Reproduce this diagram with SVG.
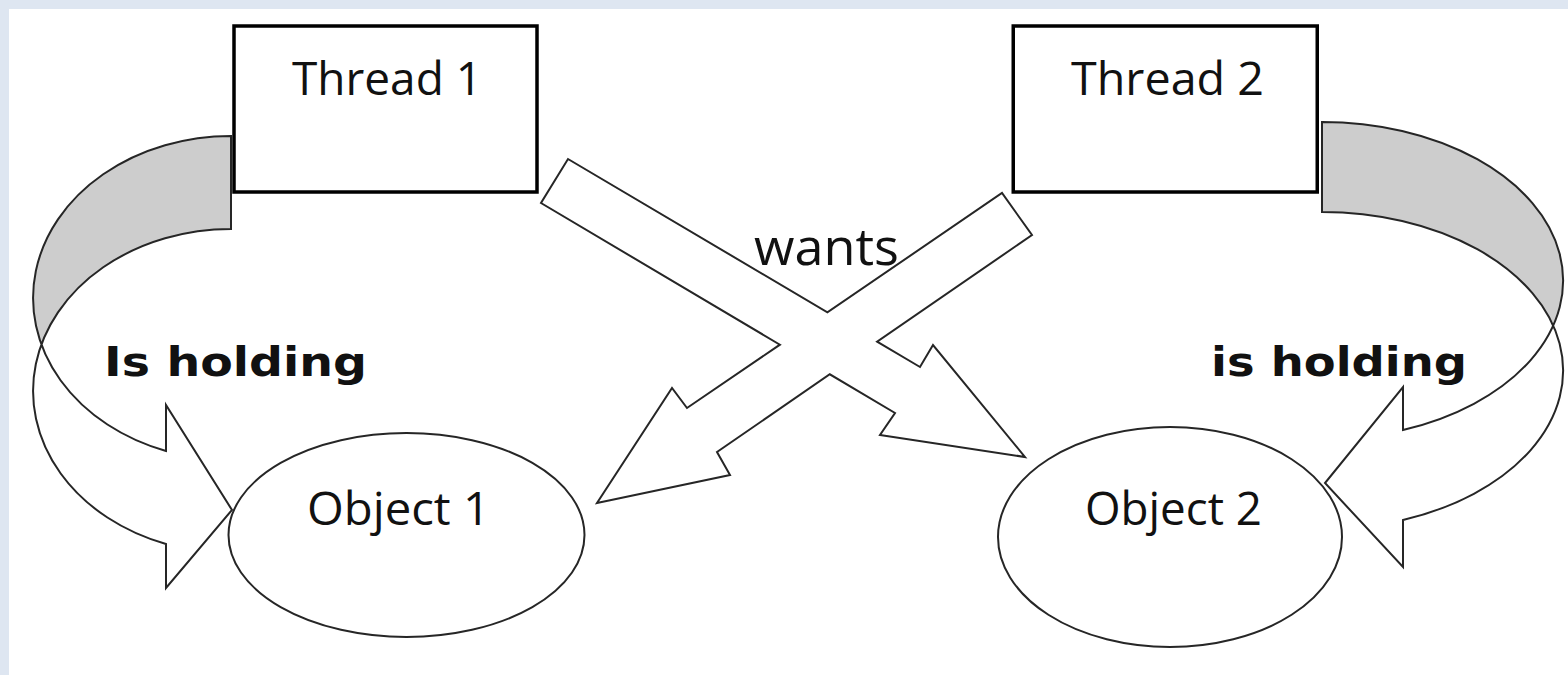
<svg xmlns="http://www.w3.org/2000/svg" width="1568" height="675" viewBox="0 0 1568 675">
  <style>
    .box { fill: #ffffff; stroke: #000000; stroke-width: 3.5; }
    .line { fill: none; stroke: #262626; stroke-width: 2; stroke-linejoin: miter; }
    .white { fill: #ffffff; stroke: none; }
    .shade { fill: #cdcdcd; stroke: none; }
    .obj { fill: none; stroke: #262626; stroke-width: 2; }
    .lbl { font-family: "Open Sans", "Liberation Sans", sans-serif; fill: #111111; }
    .bold { font-family: "DejaVu Sans", "Liberation Sans", sans-serif; font-weight: bold; fill: #111111; }
  </style>
  <rect x="0" y="0" width="1568" height="675" fill="#ffffff"/>
  <rect x="0" y="0" width="1568" height="9" fill="#dee6f1"/>
  <rect x="0" y="0" width="9" height="675" fill="#dee6f1"/>

  <g id="connectors">
    <!-- Thread 1 is holding Object 1 (curved arrow, left) -->
    <g id="hold1">
      <path class="white" d="M 231,136 A 198 162 0 0 0 166,451 L 166,405 L 232,510 L 166,588 L 166,544 A 198 162 0 0 1 231,229 Z"/>
      <path class="shade" d="M 231,136 A 198 162 0 0 0 41.3,344.5 A 198 162 0 0 1 231,229 Z"/>
      <path class="line" d="M 231,136 A 198 162 0 0 0 166,451 L 166,405 L 232,510 L 166,588 L 166,544 A 198 162 0 0 1 231,229 Z"/>
    </g>
    <!-- Thread 2 is holding Object 2 (curved arrow, right) -->
    <g id="hold2">
      <path class="white" d="M 1322,122 A 241 158.6 0 0 1 1403,430 L 1403,387 L 1325,483 L 1403,567 L 1403,520 A 241 158.6 0 0 0 1322,212 Z"/>
      <path class="shade" d="M 1322,122 A 241 158.6 0 0 1 1553.2,325.6 A 241 158.6 0 0 0 1322,212 Z"/>
      <path class="line" d="M 1322,122 A 241 158.6 0 0 1 1403,430 L 1403,387 L 1325,483 L 1403,567 L 1403,520 A 241 158.6 0 0 0 1322,212 Z"/>
    </g>
  </g>

  <g id="thread1">
    <rect class="box" x="234" y="26" width="303" height="166"/>
    <text class="lbl" x="292" y="95" font-size="46" textLength="190" lengthAdjust="spacingAndGlyphs">Thread 1</text>
  </g>
  <g id="thread2">
    <rect class="box" x="1013.25" y="26" width="304" height="166"/>
    <text class="lbl" x="1071" y="95" font-size="46" textLength="193" lengthAdjust="spacingAndGlyphs">Thread 2</text>
  </g>

  <g id="wants-arrows">
    <path class="white" d="M 568,159 L 827.4,312.3 L 1002,193 L 1032,235 L 877.1,341.7 L 920,367 L 933,345 L 1025,457 L 880,435 L 895,413 L 829.8,374.3 L 717,452 L 730,475 L 597,503 L 672,388 L 687,408 L 779.9,344.7 L 541,203 Z"/>
    <path class="line" d="M 568,159 L 827.4,312.3 L 1002,193 L 1032,235 L 877.1,341.7 L 920,367 L 933,345 L 1025,457 L 880,435 L 895,413 L 829.8,374.3 L 717,452 L 730,475 L 597,503 L 672,388 L 687,408 L 779.9,344.7 L 541,203 Z"/>
  </g>

  <g id="object1">
    <ellipse class="obj" cx="406.5" cy="535" rx="178" ry="102"/>
    <text class="lbl" x="307" y="525" font-size="45" textLength="183" lengthAdjust="spacingAndGlyphs">Object 1</text>
  </g>
  <g id="object2">
    <ellipse class="obj" cx="1170" cy="537" rx="172" ry="110"/>
    <text class="lbl" x="1085" y="525" font-size="45" textLength="177" lengthAdjust="spacingAndGlyphs">Object 2</text>
  </g>

  <g id="labels">
    <text class="lbl" x="754" y="265" font-size="52" textLength="145" lengthAdjust="spacingAndGlyphs">wants</text>
    <text class="bold" x="104" y="376" font-size="41" textLength="263" lengthAdjust="spacingAndGlyphs">Is holding</text>
    <text class="bold" x="1211" y="376" font-size="41" textLength="256" lengthAdjust="spacingAndGlyphs">is holding</text>
  </g>
</svg>
